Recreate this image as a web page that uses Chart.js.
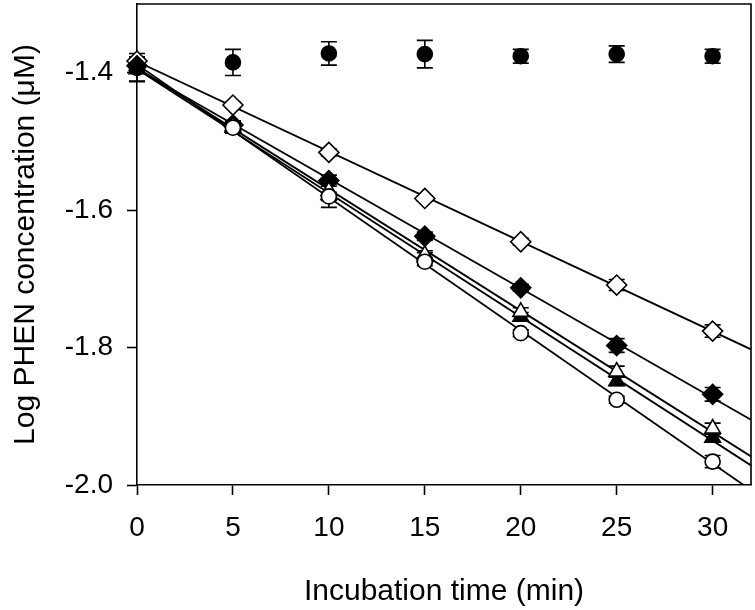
<!DOCTYPE html>
<html>
<head>
<meta charset="utf-8">
<script src="https://cdn.jsdelivr.net/npm/chart.js@4.4.1/dist/chart.umd.min.js"></script>
<style>
	body { margin: 0; background: #fff; }
	#wrap { width: 755px; height: 610px; }
</style>
</head>
<body>
<div id="wrap"><canvas id="chart" width="755" height="610"></canvas></div>
<script>
// incubation times (min)
const times = [0, 5, 10, 15, 20, 25, 30];

// log PHEN concentration per condition
const controlVals = [-1.392, -1.385, -1.372, -1.373, -1.376, -1.373, -1.376];
const controlErr = [0.02, 0.019, 0.017, 0.02, 0.01, 0.012, 0.01];

const openDiamondVals = [-1.383, -1.447, -1.516, -1.583, -1.646, -1.709, -1.776];
const openDiamondErr = [0.004, 0.004, 0.005, 0.004, 0.005, 0.008, 0.009];

const filledDiamondVals = [-1.39, -1.476, -1.557, -1.638, -1.713, -1.797, -1.868];
const filledDiamondErr = [0.005, 0.006, 0.008, 0.006, 0.005, 0.01, 0.01];

const openTriangleVals = [-1.39, -1.478, -1.572, -1.665, -1.748, -1.835, -1.918];
const openTriangleErr = [0.008, 0.006, 0.01, 0.006, 0.006, 0.008, 0.008];

const filledTriangleVals = [-1.395, -1.48, -1.578, -1.668, -1.755, -1.849, -1.931];
const filledTriangleErr = [0.018, 0.008, 0.018, 0.006, 0.006, 0.006, 0.006];

const openCircleVals = [-1.393, -1.48, -1.58, -1.675, -1.779, -1.876, -1.966];
const openCircleErr = [0.006, 0.006, 0.006, 0.006, 0.005, 0.005, 0.009];

const xTicks = [0, 5, 10, 15, 20, 25, 30];
const yTicks = [-2.0, -1.8, -1.6, -1.4];

const fontFamily = '"Liberation Sans", Arial, sans-serif';

function toPoints(vals) {
	return times.map((t, i) => ({x: t, y: vals[i]}));
}

// least squares line through a series, drawn from 0 to the right edge
function fitLine(vals) {
	const n = times.length;
	const mx = times.reduce((a, b) => a + b, 0) / n;
	const my = vals.reduce((a, b) => a + b, 0) / n;
	let sxy = 0, sxx = 0;
	times.forEach((t, i) => {
		sxy += (t - mx) * (vals[i] - my);
		sxx += (t - mx) * (t - mx);
	});
	const slope = sxy / sxx;
	const icept = my - slope * mx;
	return [{x: 0, y: icept}, {x: 32, y: icept + slope * 32}];
}

const series = [
	{vals: controlVals, err: controlErr, style: 'circle', fill: '#000', r: 7.5, order: 1, fit: false},
	{vals: openDiamondVals, err: openDiamondErr, style: 'rectRot', fill: '#fff', r: 10, order: 6, fit: true},
	{vals: filledDiamondVals, err: filledDiamondErr, style: 'rectRot', fill: '#000', r: 10, order: 5, fit: true},
	{vals: filledTriangleVals, err: filledTriangleErr, style: 'triangle', fill: '#000', r: 9, order: 4, fit: true},
	{vals: openTriangleVals, err: openTriangleErr, style: 'triangle', fill: '#fff', r: 9, order: 3, fit: true},
	{vals: openCircleVals, err: openCircleErr, style: 'circle', fill: '#fff', r: 7.5, order: 2, fit: true}
];

const datasets = [];
series.forEach(s => {
	if (s.fit) {
		datasets.push({
			data: fitLine(s.vals),
			showLine: true,
			borderColor: '#000',
			borderWidth: 1.8,
			pointRadius: 0,
			order: 10
		});
	}
	datasets.push({
		data: toPoints(s.vals),
		showLine: false,
		pointStyle: s.style,
		pointRadius: s.r,
		pointBackgroundColor: s.fill,
		pointBorderColor: '#000',
		pointBorderWidth: 1.6,
		clip: false,
		order: s.order
	});
});

// vertical error bars with caps
const errorBars = {
	id: 'errorBars',
	beforeDatasetsDraw(chart) {
		const ctx = chart.ctx;
		const xs = chart.scales.x, ys = chart.scales.y;
		ctx.save();
		ctx.strokeStyle = '#000';
		ctx.lineWidth = 1.6;
		series.forEach(s => {
			s.vals.forEach((v, i) => {
				const px = xs.getPixelForValue(times[i]);
				const top = ys.getPixelForValue(v + s.err[i]);
				const bot = ys.getPixelForValue(v - s.err[i]);
				ctx.beginPath();
				ctx.moveTo(px, top); ctx.lineTo(px, bot);
				ctx.moveTo(px - 8, top); ctx.lineTo(px + 8, top);
				ctx.moveTo(px - 8, bot); ctx.lineTo(px + 8, bot);
				ctx.stroke();
			});
		});
		ctx.restore();
	}
};

// top and right frame lines
const frame = {
	id: 'frame',
	afterDraw(chart) {
		const {ctx, chartArea: a} = chart;
		ctx.save();
		ctx.strokeStyle = '#000';
		ctx.lineWidth = 1.6;
		ctx.beginPath();
		ctx.moveTo(a.left, a.top); ctx.lineTo(a.right, a.top); ctx.lineTo(a.right, a.bottom);
		ctx.stroke();
		ctx.restore();
	}
};

new Chart(document.getElementById('chart'), {
	type: 'scatter',
	data: {datasets: datasets},
	plugins: [errorBars, frame],
	options: {
		responsive: false,
		animation: false,
		layout: {autoPadding: false, padding: {top: 4, right: 4, left: 0, bottom: 0}},
		plugins: {legend: {display: false}, tooltip: {enabled: false}},
		scales: {
			x: {
				type: 'linear',
				min: 0,
				max: 32,
				afterFit(scale) {
					scale.height = 125;
					scale.paddingLeft = 0;
					scale.paddingRight = 0;
				},
				afterBuildTicks(scale) { scale.ticks = xTicks.map(v => ({value: v})); },
				ticks: {color: '#000', padding: 16, font: {family: fontFamily, size: 28}},
				grid: {drawOnChartArea: false, tickLength: 10, tickColor: '#000', tickWidth: 1.6},
				border: {color: '#000', width: 1.6},
				title: {display: true, text: 'Incubation time (min)', color: '#000',
					padding: 0, font: {family: fontFamily, size: 30}}
			},
			y: {
				type: 'linear',
				min: -2.0,
				max: -1.3,
				afterFit(scale) {
					scale.width = 137;
					scale.paddingTop = 0;
					scale.paddingBottom = 0;
				},
				afterBuildTicks(scale) { scale.ticks = yTicks.map(v => ({value: v})); },
				ticks: {color: '#000', padding: 14, font: {family: fontFamily, size: 28},
					callback: v => v.toFixed(1)},
				grid: {drawOnChartArea: false, tickLength: 10, tickColor: '#000', tickWidth: 1.6},
				border: {color: '#000', width: 1.6},
				title: {display: true, text: 'Log PHEN concentration (\u03bcM)', color: '#000',
					padding: {top: 8, bottom: 0}, font: {family: fontFamily, size: 30}}
			}
		}
	}
});
</script>
</body>
</html>
